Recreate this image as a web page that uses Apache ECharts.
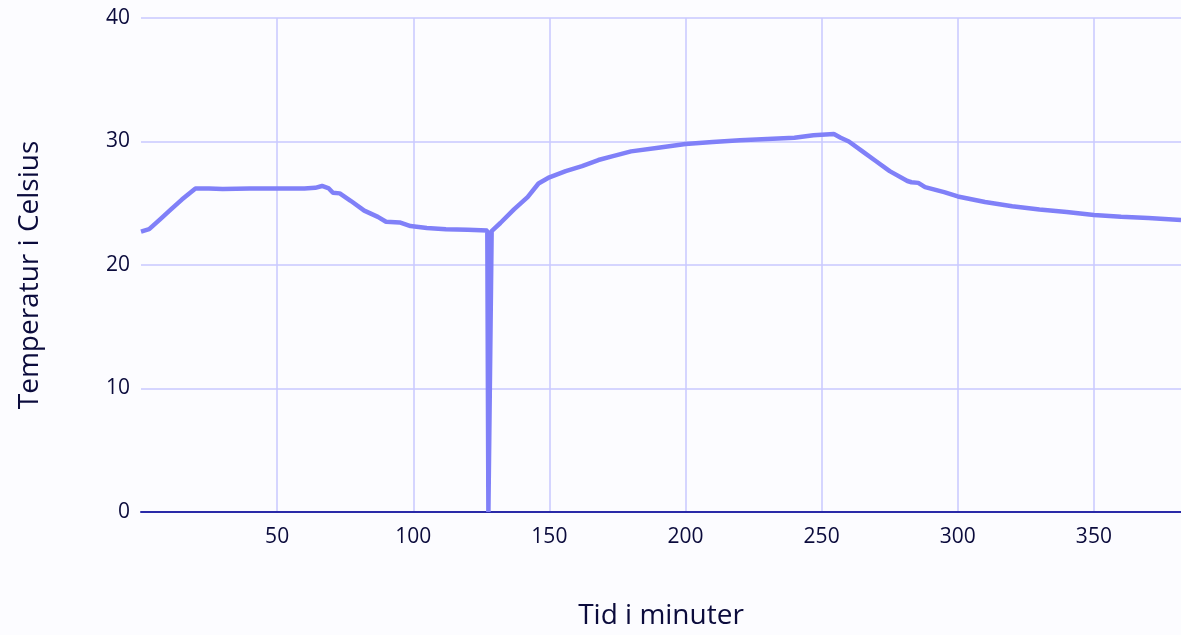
<!DOCTYPE html>
<html>
<head>
<meta charset="utf-8">
<script src="https://cdn.jsdelivr.net/npm/echarts@6/dist/echarts.min.js"></script>
<style>
	html,body{margin:0;padding:0;background:#FCFCFF;}
	#chart{width:1181px;height:635px;}
</style>
</head>
<body>
<div id="chart"></div>
<script>
// tid i minuter
var minutes = [0, 3, 7, 11, 15, 20, 25, 30, 40, 50, 60, 64, 66.5, 69, 70.5, 73, 77, 82, 87, 90, 95, 99, 105, 112, 120, 127.2,
	127.6, 128.2, 128.8, 132, 137, 142, 146, 150, 156, 162, 168, 173, 180, 190, 200, 210, 220, 230, 240, 247, 254.5,
	257, 260, 265, 270, 275, 281.5, 283, 285.5, 288, 295, 300, 310, 320, 330, 340, 350, 360, 370, 382];
// temperatur i celsius
var temps = [22.7, 22.9, 23.7, 24.5, 25.3, 26.2, 26.2, 26.15, 26.2, 26.2, 26.2, 26.25, 26.4, 26.2, 25.85, 25.8, 25.2, 24.4, 23.9, 23.5, 23.45, 23.15, 23.0, 22.9, 22.85, 22.8,
	0, 0, 22.75, 23.4, 24.5, 25.5, 26.6, 27.1, 27.6, 28.0, 28.5, 28.8, 29.2, 29.5, 29.8, 29.95, 30.1, 30.2, 30.3, 30.5, 30.6,
	30.3, 30.0, 29.2, 28.4, 27.6, 26.8, 26.7, 26.65, 26.3, 25.9, 25.55, 25.1, 24.75, 24.5, 24.3, 24.05, 23.9, 23.8, 23.65];

var xTicks = [50, 100, 150, 200, 250, 300, 350];
var yTicks = [0, 10, 20, 30, 40];

var TEXT_COLOR = '#0B0B3C';
var GRID_COLOR = '#C8C8FF';
var LINE_COLOR = '#8080F8';

function renderChart(){
	var points = [];
	for(var i = 0; i < minutes.length; i++){
		points.push([minutes[i], temps[i]]);
	}
	var myChart = echarts.init(document.getElementById('chart'));
	myChart.setOption({
		backgroundColor:'#FCFCFF',
		animation:false,
		grid:{
			left:141,
			right:0,
			top:18,
			bottom:122,
			containLabel:false
		},
		xAxis:{
			type:'value',
			min:0,
			max:382,
			interval:50,
			name:'Tid i minuter',
			nameLocation:'middle',
			nameGap:90,
			nameTextStyle:{color:TEXT_COLOR,fontSize:28,fontFamily:'Open Sans'},
			axisLine:{show:true,lineStyle:{color:'#2A2AA8',width:2}},
			axisTick:{show:false},
			axisLabel:{
				color:TEXT_COLOR,
				fontSize:21,
				fontFamily:'Open Sans',
				margin:15,
				showMaxLabel:false,
				formatter:function(v){ return xTicks.indexOf(v) >= 0 ? String(v) : ''; }
			},
			splitLine:{
				show:true,
				showMinLine:false,
				showMaxLine:false,
				lineStyle:{color:GRID_COLOR,width:1.5}
			}
		},
		yAxis:{
			type:'value',
			min:0,
			max:40,
			interval:10,
			name:'Temperatur i Celsius',
			nameLocation:'middle',
			nameGap:97,
			nameTextStyle:{color:TEXT_COLOR,fontSize:28,fontFamily:'Open Sans',padding:[0,20,0,0]},
			axisLine:{show:false},
			axisTick:{show:false},
			axisLabel:{
				color:TEXT_COLOR,
				fontSize:21,
				fontFamily:'Open Sans',
				margin:11,
				formatter:function(v){ return yTicks.indexOf(v) >= 0 ? String(v) : ''; }
			},
			splitLine:{
				show:true,
				lineStyle:{color:GRID_COLOR,width:1.5}
			}
		},
		series:[{
			type:'line',
			data:points,
			showSymbol:false,
			symbol:'none',
			lineStyle:{color:LINE_COLOR,width:4.5},
			itemStyle:{color:LINE_COLOR}
		}]
	});
}

renderChart();
</script>
</body>
</html>
